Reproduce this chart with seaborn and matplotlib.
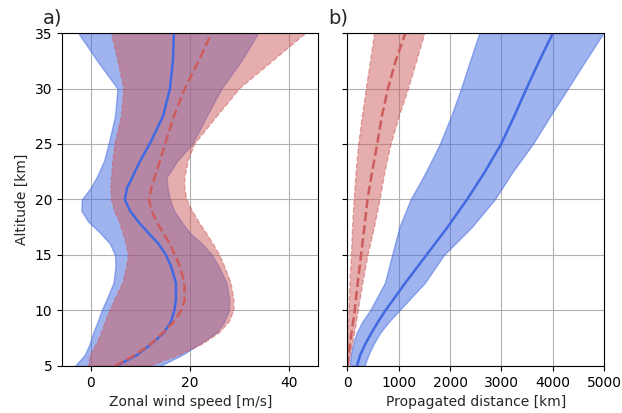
import numpy as np
import matplotlib
matplotlib.use("Agg")
import matplotlib.pyplot as plt
import seaborn as sns

# panel a) zonal wind profiles
alt_a = [5, 6, 7, 8, 9, 10, 11, 12.5, 14, 15, 16, 17, 18, 19, 20, 21, 22, 23.5, 25, 27.5, 30, 32.5, 35]
blue_mean_a = [5.2, 9.4, 12.3, 14.8, 16.2, 16.9, 17.2, 17.2, 16.2, 15.2, 13.7, 11.6, 9.6, 7.9, 6.9, 7.3, 8.4, 10.0, 11.9, 14.6, 16.0, 16.6, 16.8]
blue_low_a = [-3.2, -1.2, -0.2, 0.5, 1.4, 2.2, 3.2, 4.6, 5.0, 4.9, 3.9, 1.9, -0.5, -1.9, -1.8, -0.1, 1.2, 2.7, 3.6, 4.9, 5.4, 1.3, -2.5]
blue_high_a = [14, 18.5, 22, 25.4, 27, 27.9, 28, 27.4, 25.8, 24.5, 22.5, 20, 18.3, 16.8, 16.0, 15.5, 15.3, 17.5, 20.5, 23.4, 26.4, 30.4, 33.8]
red_mean_a = [4.9, 9.0, 12.2, 14.6, 16.8, 18.3, 19.0, 18.9, 18.0, 17.0, 16.0, 14.6, 13.3, 12.3, 11.8, 12.2, 12.9, 14.0, 15.0, 16.8, 19.0, 21.8, 24.4]
red_low_a = [-0.5, 0, 1.2, 2.2, 3.0, 3.9, 4.9, 6.5, 7.3, 7.6, 7.2, 6.5, 5.8, 4.8, 4.2, 4.1, 4.2, 4.5, 4.9, 6.2, 6.7, 5.5, 4.2]
red_high_a = [12, 18, 22.7, 26, 28, 28.9, 28.9, 28.3, 27, 26, 24.7, 23.3, 21.8, 20.5, 19.4, 19.0, 19.0, 19.7, 21.0, 25.5, 30.1, 36.8, 43.5]

# panel b) propagated distance
alt_b = [5, 6, 7, 8, 9, 10, 12.5, 15, 17.5, 20, 22.5, 25, 27.5, 30, 32.5, 35]
blue_mean_b = [185, 250, 350, 470, 600, 740, 1130, 1540, 1950, 2330, 2680, 2996, 3250, 3490, 3740, 4005]
blue_low_b = [40, 65, 110, 180, 290, 440, 730, 870, 1010, 1230, 1530, 1800, 2020, 2213, 2390, 2569]
blue_high_b = [330, 410, 510, 640, 810, 1010, 1510, 1880, 2420, 2870, 3220, 3613, 3950, 4296, 4639, 4990]
red_mean_b = [5, 25, 50, 80, 110, 140, 200, 265, 330, 390, 480, 580, 670, 789, 940, 1130]
red_low_b = [0, 5, 10, 15, 20, 27, 50, 78, 100, 131, 170, 220, 290, 369, 450, 530]
red_high_b = [20, 60, 100, 140, 175, 210, 300, 400, 525, 635, 730, 850, 1010, 1190, 1350, 1510]

BLUE = "royalblue"
RED = "indianred"

sns.set_style("ticks", {"axes.grid": True, "grid.color": "#b0b0b0",
                        "axes.edgecolor": "black", "xtick.color": "black",
                        "ytick.color": "black"})
plt.rcParams["font.family"] = ["DejaVu Sans"]

fig, (ax1, ax2) = plt.subplots(1, 2, figsize=(6.22, 4.13), dpi=100, sharey=True)
fig.subplots_adjust(left=0.0997, right=0.971, bottom=0.114, top=0.920, wspace=0.113)


def draw_panel(ax, alt, bm, bl, bh, rm, rl, rh):
    # blue band first, red band on top of it, then the mean lines
    ax.fill_betweenx(alt, bl, bh, color=BLUE, alpha=0.5, lw=1)
    ax.fill_betweenx(alt, rl, rh, facecolor=RED, edgecolor=RED, alpha=0.5,
                     lw=1, linestyle="--")
    sns.lineplot(x=bm, y=alt, orient="y", color=BLUE, lw=1.8, ax=ax)
    sns.lineplot(x=rm, y=alt, orient="y", color=RED, lw=1.8, ls="--", ax=ax)


draw_panel(ax1, alt_a, blue_mean_a, blue_low_a, blue_high_a,
           red_mean_a, red_low_a, red_high_a)
draw_panel(ax2, alt_b, blue_mean_b, blue_low_b, blue_high_b,
           red_mean_b, red_low_b, red_high_b)

ax1.set_ylim(5, 35)
ax1.set_xlim(-5.8, 46)
ax2.set_xlim(0, 5000)
ax1.set_xticks([0, 20, 40])
ax2.set_xticks([0, 1000, 2000, 3000, 4000, 5000])

ax1.set_xlabel("Zonal wind speed [m/s]")
ax1.set_ylabel("Altitude [km]")
ax2.set_xlabel("Propagated distance [km]")
ax2.set_ylabel("")
ax2.tick_params(labelleft=False)

for ax, lab in [(ax1, "a)"), (ax2, "b)")]:
    ax.text(-0.076, 1.03, lab, transform=ax.transAxes, fontsize=14,
            va="baseline", ha="left")

fig.savefig("out.png", dpi=100)
